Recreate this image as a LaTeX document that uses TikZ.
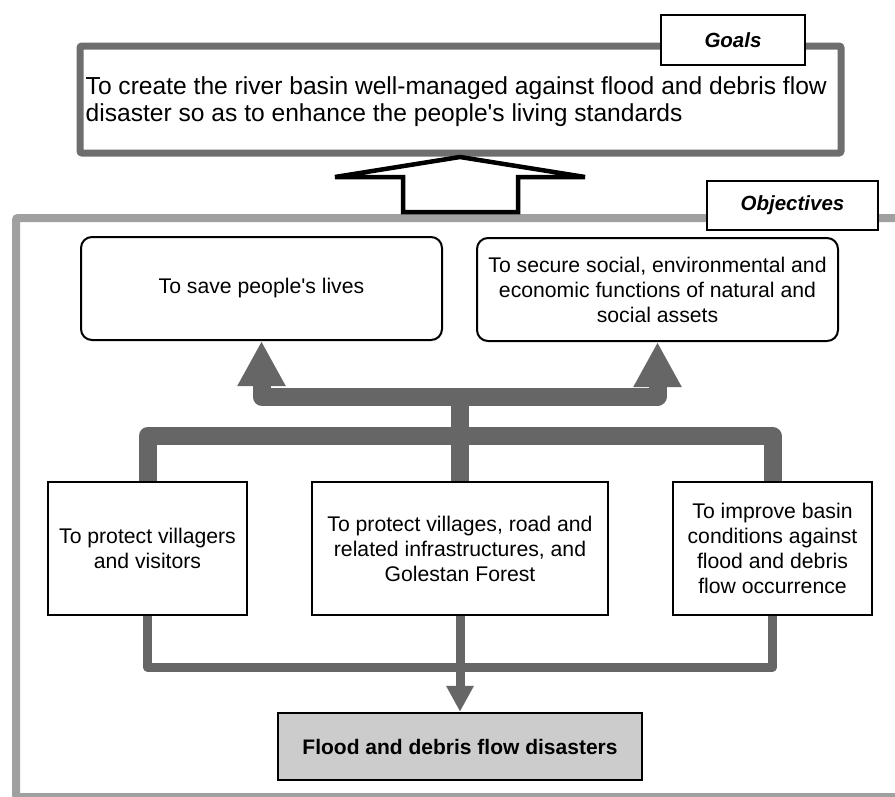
\documentclass[tikz,border=0pt]{standalone}
\usepackage{fontspec}
\setmainfont{Liberation Sans}
\usetikzlibrary{arrows.meta}

\definecolor{arrowgray}{HTML}{666666}
\definecolor{goalgray}{HTML}{6E6E6E}
\definecolor{framegray}{HTML}{A0A0A0}
\definecolor{floodfill}{HTML}{CCCCCC}

\begin{document}
\begin{tikzpicture}[x=1pt, y=-1pt,
    txt/.style={font=\fontsize{21.2}{25}\selectfont},
    tagbox/.style={draw, fill=white, line width=2pt, inner sep=0pt,
        font=\fontsize{20.5}{25}\selectfont\bfseries\itshape},
    objbox/.style={draw, fill=white, line width=2pt, rounded corners=11pt, inner sep=2pt,
        minimum width=361pt, minimum height=103pt, align=center, txt},
    taskbox/.style={draw, fill=white, line width=2.5pt, inner sep=2pt,
        minimum height=133pt, align=center, txt},
    fatline/.style={draw=arrowgray, line width=18pt, line join=round},
    thinline/.style={draw=arrowgray, line width=9pt, line join=round}]
    \clip (0,0) rectangle (895,796);

    % frames
    \draw[framegray, line width=8pt, rounded corners=2pt] (16,218) rectangle (910,797);
    \node[draw=goalgray, fill=white, line width=7pt, rounded corners=2pt, inner sep=0pt,
        minimum width=761pt, minimum height=107pt] (goalbox) at (460.5,99.5) {};
    \node[font=\fontsize{24.6}{27}\selectfont, anchor=west, align=left, inner sep=0pt] (goaltext)
        at ([xshift=9pt, yshift=-2pt]goalbox.west)
        {To create the river basin well-managed against flood and debris flow\\
         disaster so as to enhance the people\textquotesingle s living standards};
    \node[tagbox, minimum width=144pt, minimum height=50pt] (goaltag) at (733,40) {Goals};
    \node[tagbox, minimum width=171pt, minimum height=49pt] (objtag) at (792.5,205.5) {Objectives};

    % hollow arrow
    \draw[line width=4.5pt, fill=white] (335,177) -- (460,157) -- (585,177) -- (518,177)
        -- (518,212) -- (403,212) -- (403,177) -- cycle;

    % objectives
    \node[objbox] (obj1) at (261.5,288.5) {To save people\textquotesingle s lives};
    \node[objbox] (obj2) at (657.5,289.5) {To secure social, environmental and\\
        economic functions of natural and\\ social assets};

    \node[taskbox, minimum width=199pt] (task1) at (147.5,548.5) {To protect villagers\\ and visitors};
    \node[taskbox, minimum width=296pt] (task2) at (460,548.5) {To protect villages, road and\\
        related infrastructures, and\\ Golestan Forest};
    \node[taskbox, minimum width=199pt] (task3) at (772.5,548.5) {To improve basin\\
        conditions against\\ flood and debris\\ flow occurrence};

    \node[draw, fill=floodfill, line width=2.5pt, minimum width=364pt, minimum height=67pt,
        font=\fontsize{21}{25}\selectfont\bfseries] (flood) at (460,746.5)
        {Flood and debris flow disasters};

    % connectors
    \coordinate (upj) at (460,396.5);
    \coordinate (lowj) at (460,436);
    \coordinate (botj) at (460,667);
    \draw[fatline] (task1.north) |- (lowj) -| (task3.north);
    \draw[fatline] (task2.north) -- (upj);
    \draw[fatline, -{Triangle[length=45pt, width=45pt]}] (upj) -| (obj1.south);
    \draw[fatline, -{Triangle[length=45pt, width=45pt]}] (upj) -| (obj2.south);
    \draw[thinline] (task1.south) |- (botj) -| (task3.south);
    \draw[thinline, -{Triangle[length=26pt, width=26pt]}] (task2.south) -- (flood.north);
\end{tikzpicture}
\end{document}
